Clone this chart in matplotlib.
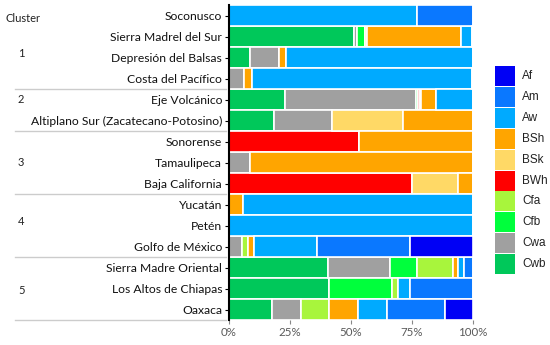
import numpy as np
import matplotlib
matplotlib.use("Agg")
import matplotlib.pyplot as plt
import matplotlib.transforms as mtransforms
from matplotlib.patches import Rectangle

plt.rcParams['font.family'] = ['Lato', 'DejaVu Sans']

regions = ["Soconusco", "Sierra Madrel del Sur", "Depresión del Balsas",
           "Costa del Pacífico", "Eje Volcánico",
           "Altiplano Sur (Zacatecano-Potosino)", "Sonorense", "Tamaulipeca",
           "Baja California", "Yucatán", "Petén", "Golfo de México",
           "Sierra Madre Oriental", "Los Altos de Chiapas", "Oaxaca"]

clusters = ["1", "2", "3", "4", "5"]
cluster_sizes = [4, 2, 3, 3, 3]

# stacking order, left to right
climates = ["Cwb", "Cwa", "Cfb", "Cfa", "BWh", "BSk", "BSh", "Aw", "Am", "Af"]
colors = {"Af": "#0000F5", "Am": "#0A78FF", "Aw": "#00AAFF", "BSh": "#FFA500",
          "BSk": "#FFD966", "BWh": "#FF0000", "Cfa": "#A8F53C", "Cfb": "#00FF3C",
          "Cwa": "#A0A0A0", "Cwb": "#00C85A"}

# percent share per region (same order as regions)
Cwb = [0, 51.2, 8.7, 0, 23.0, 18.3, 0, 0, 0, 0, 0, 0, 40.4, 41.0, 17.6]
Cwa = [0, 1.1, 11.7, 6.3, 53.6, 23.8, 0, 8.6, 0, 0, 0, 5.5, 25.7, 0, 11.8]
Cfb = [0, 3.4, 0, 0, 0.7, 0, 0, 0, 0, 0, 0, 0, 10.9, 25.8, 0]
Cfa = [0, 0, 0, 0, 0, 0, 0, 0, 0, 0, 0, 2.1, 14.7, 2.6, 11.7]
BWh = [0, 0, 0, 0, 0.8, 0, 53.4, 0, 75.1, 0, 0, 0, 0, 0, 0]
BSk = [0, 0.7, 0, 0, 0.4, 29.1, 0, 0, 18.9, 0, 0, 0, 0, 0, 0]
BSh = [0, 38.6, 3.1, 3.3, 6.2, 28.8, 46.6, 91.4, 6.0, 5.6, 0, 2.5, 2.1, 0, 11.9]
Aw = [77.0, 4.5, 76.5, 90.0, 15.3, 0, 0, 0, 0, 94.4, 100, 25.8, 2.4, 4.9, 11.8]
Am = [23.0, 0.5, 0, 0.4, 0, 0, 0, 0, 0, 0, 0, 38.4, 3.8, 25.7, 23.6]
Af = [0, 0, 0, 0, 0, 0, 0, 0, 0, 0, 0, 25.7, 0, 0, 11.6]

values = {"Cwb": Cwb, "Cwa": Cwa, "Cfb": Cfb, "Cfa": Cfa, "BWh": BWh,
          "BSk": BSk, "BSh": BSh, "Aw": Aw, "Am": Am, "Af": Af}

xticks = [0, 25, 50, 75, 100]
xtick_labels = ["0%", "25%", "50%", "75%", "100%"]

W, H = 550, 345
fig = plt.figure(figsize=(W / 100, H / 100), dpi=100)
ax = fig.add_axes([229 / W, 25 / H, 244 / W, 315 / H])

y = np.arange(len(regions))
left = np.zeros(len(regions))
for c in climates:
    v = np.array(values[c])
    ax.barh(y, v, left=left, height=1.0, color=colors[c],
            edgecolor="white", linewidth=1.2)
    left += v

ax.set_xlim(0, 100)
ax.set_ylim(len(regions) - 0.5, -0.5)
ax.set_yticks(y)
ax.set_yticklabels(regions, fontsize=8.7, color="#111111")
ax.set_xticks(xticks)
ax.set_xticklabels(xtick_labels, fontsize=8.3, color="#595959")
ax.tick_params(axis="y", length=3, width=0.8, pad=2)
ax.tick_params(axis="x", length=3, width=0.8, color="#888888", pad=2)
for s in ["top", "right"]:
    ax.spines[s].set_visible(False)
ax.spines["bottom"].set_visible(False)
ax.spines["left"].set_linewidth(1.5)

# cluster column on the left
tr = mtransforms.blended_transform_factory(fig.transFigure, ax.transData)
fig.text(5 / W, 1 - 19 / H, "Cluster", fontsize=8, color="#222222",
         va="center", ha="left")
label_shift = [0.3, -0.5, 0, -0.2, 0.1]
start = 0
for name, n, dy in zip(clusters, cluster_sizes, label_shift):
    mid = start + (n - 1) / 2 + dy
    ax.text(18 / W, mid, name, transform=tr, fontsize=8, va="center",
            ha="left", color="#222222")
    end = start + n - 0.5
    ax.plot([15 / W, 226 / W], [end, end], transform=tr, color="#CCCCCC",
            linewidth=1.0, clip_on=False)
    start += n

# legend drawn by hand: square swatches, Af on top
top, pitch, size = 66, 20.9, 20
for i, c in enumerate(climates[::-1]):
    y0 = top + i * pitch
    fig.patches.append(Rectangle((495 / W, 1 - (y0 + size) / H), size / W,
                                 size / H, transform=fig.transFigure,
                                 facecolor=colors[c], edgecolor="none"))
    fig.text(522 / W, 1 - (y0 + size / 2) / H, c, fontsize=8.5,
             family="Liberation Sans", va="center", ha="left",
             color="#222222")

fig.savefig("out.png", dpi=100)
